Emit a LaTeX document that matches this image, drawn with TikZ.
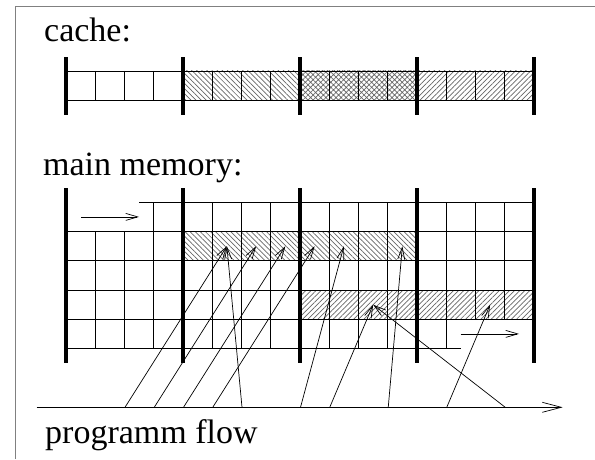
\documentclass[tikz,border=0pt]{standalone}
\usepackage{fontspec}
\setmainfont{Liberation Serif}
\usetikzlibrary{arrows.meta, patterns.meta}

\begin{document}
\begin{tikzpicture}[x=1pt, y=-1pt, >={Straight Barb[length=12pt,width=7pt]},
                lbl/.style={anchor=base west, inner sep=0pt, font=\fontsize{34}{40}\selectfont},
                cell/.style={line width=0.8pt},
                bar/.style={line width=4pt},
                flow/.style={->, line width=0.7pt},
                hatchnw/.style={pattern={Lines[angle=-45,distance=3.6pt,line width=0.7pt]}, pattern color=black!60},
                hatchne/.style={pattern={Lines[angle=45,distance=3.6pt,line width=0.7pt]}, pattern color=black!60},
                hatchx/.style={pattern={Hatch[angle=45,distance=3.6pt,line width=0.7pt]}, pattern color=black!60}]
                \useasboundingbox (0,0) rectangle (595,459);
                \draw[gray, line width=1pt] (15,459) -- (15,6) -- (595,6);

                % cache
                \node[lbl] (cachelbl) at (44,41.7) {cache:};
                \fill[hatchnw] (183,70.9) rectangle (300,100.2);
                \fill[hatchx] (300,70.9) rectangle (417,100.2);
                \fill[hatchne] (417,70.9) rectangle (534,100.2);
                \draw[cell] (66,70.9) rectangle (534,100.2);
                \foreach \i in {1,...,15}
                  \draw[cell] ({66+29.25*\i},70.9) -- ++(0,29.3);
                \foreach \i in {0,...,4}
                  \draw[bar] ({66+117*\i},57) -- ++(0,58);

                % main memory
                \node[lbl] (memlbl) at (43,175) {main memory:};
                \fill[hatchnw] (183,231.55) rectangle (417,260.8);
                \fill[hatchne] (300,290.05) rectangle (534,319.3);
                \draw[cell] (139,202.3) -- (534,202.3);
                \foreach \y in {231.55,260.8,290.05,319.3}
                  \draw[cell] (66,\y) -- (534,\y);
                \draw[cell] (66,348.55) -- (460.7,348.55);
                \foreach \i in {1,2}
                  \draw[cell] ({66+29.25*\i},231.55) -- ++(0,117);
                \foreach \i in {3,...,13}
                  \draw[cell] ({66+29.25*\i},202.3) -- ++(0,146.25);
                \foreach \i in {14,15}
                  \draw[cell] ({66+29.25*\i},202.3) -- ++(0,117);
                \foreach \i in {0,...,4}
                  \draw[bar] ({66+117*\i},188) -- ++(0,175);

                \coordinate (in1) at (81,216.9);
                \coordinate (in2) at (139,216.9);
                \coordinate (out1) at (460.7,333.9);
                \coordinate (out2) at (519,333.9);
                \draw[flow] (in1) -- (in2);
                \draw[flow] (out1) -- (out2);

                % programm flow
                \coordinate (ax1) at (36.7,407.3);
                \coordinate (ax2) at (562.7,407.3);
                \draw[line width=0.7pt, -{Straight Barb[length=19pt,width=10pt]}] (ax1) -- (ax2);
                \node[lbl] (flowlbl) at (45,443) {programm flow};

                \foreach \f/\c/\r [count=\k] in {0/5/2, 1/6/2, 2/7/2, 3/8/2, 4/5/2, 6/9/2, 7/10/4, 9/11/2, 11/14/4, 13/10/4} {
                  \coordinate (foot\k) at ({125+29.25*\f},407.3);
                  \coordinate (tip\k) at ({66+29.25*(\c+0.5)},{202.3+29.25*(\r-0.5)});
                  \draw[flow] (foot\k) -- (tip\k);
                }
            \end{tikzpicture}
\end{document}
